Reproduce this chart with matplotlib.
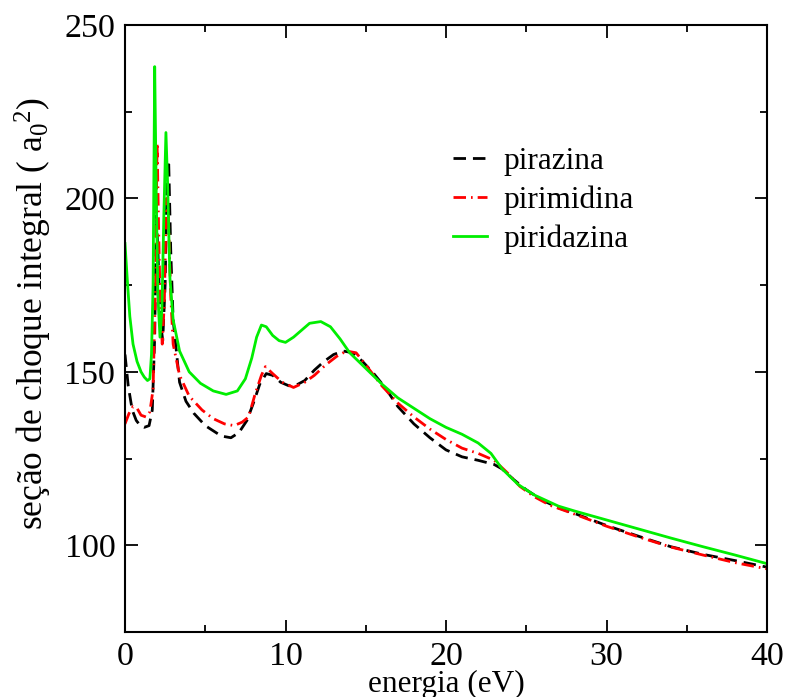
import matplotlib
matplotlib.use("Agg")
import matplotlib.pyplot as plt
from matplotlib.ticker import MultipleLocator

plt.rcParams["font.family"] = ["Liberation Serif", "DejaVu Serif"]
plt.rcParams["mathtext.fontset"] = "custom"
plt.rcParams["mathtext.rm"] = "Liberation Serif"
plt.rcParams["mathtext.it"] = "Liberation Serif:italic"

# energia (eV) / seção de choque (a0^2)
pirazina_x = [0, 0.2, 0.45, 0.7, 0.95, 1.2, 1.5, 1.7, 1.85, 1.95, 2.05, 2.2, 2.35,
              2.5, 2.62, 2.72, 2.85, 3.0, 3.4, 3.8, 4.3, 5.0, 5.5, 6.0, 6.6, 7.1,
              7.6, 8.0, 8.4, 8.8, 9.2, 9.7, 10.2, 10.6, 11.2, 11.8, 12.4, 13.0,
              13.6, 14.2, 14.8, 15.5, 16.2, 17, 18, 19, 20, 21, 22, 23, 23.5,
              24.2, 25, 26, 27, 28, 30, 32, 34, 36, 38, 40]
pirazina_y = [155, 146, 139, 136, 134.5, 134, 134.5, 139, 160, 195, 185, 165, 159,
              175, 205, 211, 185, 165, 147, 141.5, 138, 134.5, 133, 131.5, 131,
              132.5, 136, 141, 146.5, 149.5, 149, 147, 146, 146, 147.5, 150.5,
              153, 155, 156, 155.5, 153, 149.5, 145.5, 140, 135, 131, 127.5,
              125.5, 124.5, 123.3, 122, 119, 116, 113, 110.8, 109.2, 105.7,
              102.6, 99.6, 97.4, 95.6, 93.7]

pirimidina_x = [0, 0.25, 0.5, 0.75, 1.0, 1.3, 1.55, 1.75, 1.9, 2.0, 2.1, 2.2, 2.32,
                2.45, 2.58, 2.7, 2.85, 3.0, 3.4, 4.0, 4.8, 5.5, 6.2, 6.8, 7.3, 7.7,
                8.1, 8.5, 8.75, 9.2, 9.8, 10.5, 11.2, 11.8, 12.5, 13.2, 13.8, 14.4,
                15, 16, 17, 18, 19, 20, 21, 22, 23, 23.8, 24.6, 25.5, 26.5, 28, 30,
                32, 34, 36, 38, 40]
pirimidina_y = [135, 138, 140, 139.5, 137.5, 137, 138.5, 145, 175, 216, 190, 168,
                158, 170, 200, 195, 172, 158, 149, 143, 139, 136.5, 135, 134.5,
                135.5, 137, 143.5, 149, 151.5, 149.5, 147, 145.5, 147, 149, 152,
                154.5, 156, 155.5, 152, 146, 141, 137, 133.5, 130.5, 128, 126.5,
                124.5, 121, 117, 114, 111.5, 109, 105.5, 102.4, 99.5, 97.2, 95,
                93.2]

piridazina_x = [0, 0.15, 0.3, 0.5, 0.75, 1.0, 1.2, 1.4, 1.55, 1.65, 1.75, 1.85, 1.95,
                2.05, 2.18, 2.3, 2.42, 2.55, 2.65, 2.8, 3.0, 3.4, 4.0, 4.7, 5.5,
                6.3, 7.0, 7.5, 7.9, 8.2, 8.5, 8.8, 9.2, 9.6, 10.0, 10.5, 11.0,
                11.5, 12.2, 12.8, 13.4, 14, 15, 16, 17, 18, 19, 20, 21, 22, 22.8,
                23.5, 24.5, 25.5, 27, 28, 30, 32, 34, 36, 38, 40]
piridazina_y = [187, 176, 166, 158, 153, 150, 148.5, 147.5, 148, 155, 175, 238, 200,
                172, 160, 168, 195, 219, 205, 177, 165, 156, 150, 146.7, 144.5,
                143.5, 144.5, 148, 154, 160, 163.5, 163, 160.5, 159, 158.5, 160,
                162, 164, 164.5, 163, 159.5, 155.5, 151, 146.5, 142.5, 139.5,
                136.5, 134, 132, 129.5, 126.5, 122, 117.5, 114.5, 111.3, 109.9,
                107.3, 104.7, 102.1, 99.6, 97.2, 94.7]

fig = plt.figure(figsize=(7.85, 6.97), dpi=100)
ax = fig.add_axes([125 / 785, 1 - 632 / 697, 642 / 785, 607 / 697])

ax.plot(pirazina_x, pirazina_y, color="black", lw=2, dashes=(4.5, 2.5),
        label="pirazina")
ax.plot(pirimidina_x, pirimidina_y, color="red", lw=2,
        dashes=(4.5, 1.8, 0.6, 1.8), label="pirimidina")
ax.plot(piridazina_x, piridazina_y, color="#00ee00", lw=2, label="piridazina")

ax.set_xlim(0, 40)
ax.set_ylim(75, 250)
ax.xaxis.set_major_locator(MultipleLocator(10))
ax.xaxis.set_minor_locator(MultipleLocator(5))
ax.yaxis.set_major_locator(MultipleLocator(50))
ax.yaxis.set_minor_locator(MultipleLocator(25))
ax.tick_params(which="both", direction="in", top=True, right=True,
               labelsize=24.5, width=1.3, pad=7)
ax.tick_params(which="major", length=9)
ax.tick_params(which="minor", length=5)
for s in ax.spines.values():
    s.set_linewidth(1.5)

ax.set_xlabel("energia (eV)", fontsize=22.5, labelpad=-2)
ax.set_ylabel(r"seção de choque integral ( a$\mathregular{_0}$$\mathregular{^2}$)",
              fontsize=25.5)
ax.yaxis.set_label_coords(-0.11, 0.525)

ax.legend(loc="upper left", bbox_to_anchor=(453 / 785, 1 - 147 / 697),
          bbox_transform=fig.transFigure, frameon=False, fontsize=22.5,
          handlelength=1.1, handletextpad=0.5, labelspacing=0.3,
          borderpad=0, borderaxespad=0)

fig.savefig("out.png", dpi=100)
